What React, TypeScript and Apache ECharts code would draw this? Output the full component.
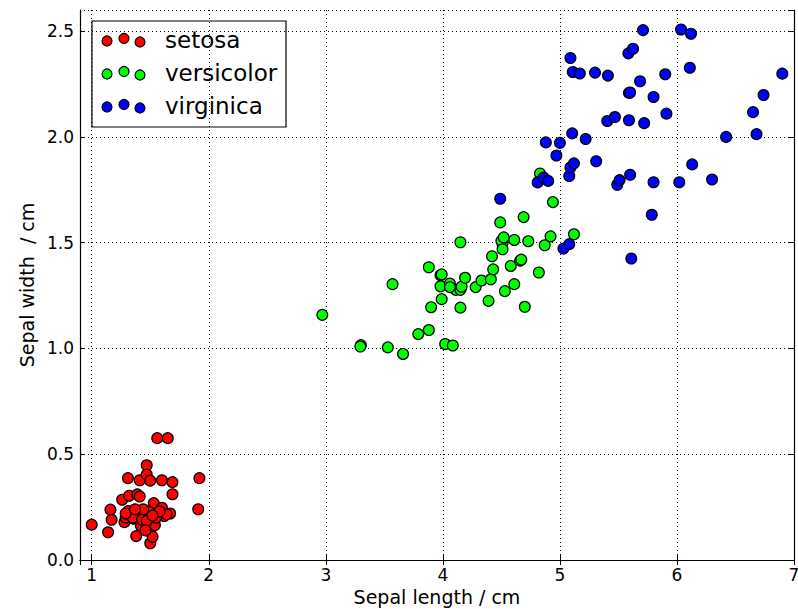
import React, { useEffect, useRef } from "react";
import * as echarts from "echarts";

const speciesNames = ["setosa", "versicolor", "virginica"];
const speciesColors = ["#ff0000", "#00ff00", "#0000ff"];
const xTickLabels = ["1", "2", "3", "4", "5", "6", "7"];
const yTickLabels = ["0.0", "0.5", "1.0", "1.5", "2.0", "2.5"];

const setosa: number[][] = [
  [1.0, 0.167], [1.14, 0.131], [1.16, 0.238], [1.17, 0.19], [1.26, 0.285],
  [1.28, 0.179], [1.29, 0.201], [1.31, 0.387], [1.31, 0.231], [1.32, 0.304],
  [1.36, 0.195], [1.38, 0.113], [1.39, 0.31], [1.4, 0.219], [1.41, 0.3],
  [1.41, 0.377], [1.42, 0.162], [1.47, 0.448], [1.47, 0.404], [1.5, 0.375],
  [1.5, 0.22], [1.5, 0.135], [1.5, 0.079], [1.52, 0.11], [1.53, 0.269],
  [1.54, 0.165], [1.56, 0.576], [1.65, 0.576], [1.6, 0.377], [1.6, 0.247],
  [1.69, 0.368], [1.69, 0.311], [1.67, 0.22], [1.62, 0.208], [1.92, 0.387],
  [1.91, 0.24], [1.64, 0.216], [1.49, 0.228], [1.45, 0.21], [1.44, 0.24],
  [1.33, 0.21], [1.35, 0.2], [1.43, 0.19], [1.55, 0.2], [1.58, 0.23],
  [1.47, 0.185], [1.52, 0.21], [1.29, 0.22], [1.37, 0.24], [1.46, 0.14],
];

const versicolor: number[][] = [
  [2.97, 1.159], [3.3, 1.016], [3.295, 1.009], [3.53, 1.005], [3.66, 0.974],
  [3.57, 1.304], [3.79, 1.068], [3.88, 1.087], [3.88, 1.384], [3.9, 1.195],
  [3.98, 1.346], [3.98, 1.294], [3.99, 1.233], [4.02, 1.021], [4.085, 1.014],
  [4.06, 1.307], [4.11, 1.277], [4.15, 1.277], [4.16, 1.292], [4.15, 1.193],
  [4.19, 1.334], [4.15, 1.502], [4.28, 1.29], [4.33, 1.321], [4.39, 1.225],
  [4.41, 1.327], [4.43, 1.374], [4.42, 1.436], [4.49, 1.596], [4.51, 1.497],
  [4.5, 1.508], [4.52, 1.525], [4.51, 1.469], [4.53, 1.271], [4.58, 1.39],
  [4.61, 1.513], [4.61, 1.304], [4.66, 1.415], [4.69, 1.621], [4.7, 1.197],
  [4.73, 1.507], [4.82, 1.359], [4.87, 1.488], [4.92, 1.53], [4.94, 1.692],
  [5.12, 1.54], [4.83, 1.827], [4.67, 1.42], [3.99, 1.35], [4.06, 1.29],
];

const virginica: number[][] = [
  [4.49, 1.708], [5.03, 1.472], [5.08, 1.493], [4.81, 1.785], [4.86, 1.808],
  [4.9, 1.792], [5.08, 1.815], [5.09, 1.856], [5.12, 1.875], [5.785, 1.632],
  [5.61, 1.425], [5.49, 1.774], [5.51, 1.796], [5.8, 1.786], [6.02, 1.786],
  [6.3, 1.799], [5.09, 2.373], [5.11, 2.307], [5.17, 2.3], [5.3, 2.304],
  [5.41, 2.29], [5.585, 2.395], [5.625, 2.417], [5.59, 2.208], [5.405, 2.075],
  [5.47, 2.094], [5.59, 2.079], [5.105, 2.017], [5.22, 1.99], [4.88, 1.974],
  [5.0, 1.972], [4.97, 1.912], [5.31, 1.885], [5.6, 1.821], [5.71, 2.505],
  [6.035, 2.508], [6.12, 2.488], [5.9, 2.296], [6.11, 2.327], [6.9, 2.299],
  [5.685, 2.263], [5.8, 2.189], [6.74, 2.198], [6.65, 2.117], [5.91, 2.11],
  [5.72, 2.065], [6.42, 2.0], [6.68, 2.013], [6.13, 1.87], [5.6, 2.21],
];

const speciesData = [setosa, versicolor, virginica];

const FONT = "DejaVu Sans";

export default function App() {
  const ref = useRef<HTMLDivElement>(null);

  useEffect(() => {
    document.body.style.margin = "0";
    if (!ref.current) return;
    const chart = echarts.init(ref.current, null, { renderer: "svg" });

    const splitLine = {
      show: true,
      lineStyle: { color: "#000", width: 1, type: [1, 3] as any },
    };
    const axisLine = { show: true, lineStyle: { color: "#000", width: 1.2 } };
    const axisTick = { show: true, inside: true, length: 5, lineStyle: { color: "#000", width: 1 } };

    const legendRows = speciesNames.map((name, i) => {
      const rowY = 41 + i * 33;
      const offs = [0, -2.5, 1];
      const xs = [107, 124, 140];
      return {
        type: "group",
        children: [
          ...xs.map((x, k) => ({
            type: "circle",
            shape: { cx: x, cy: rowY + offs[k], r: 5 },
            style: { fill: speciesColors[i], stroke: "#000", lineWidth: 1.2 },
          })),
          {
            type: "text",
            x: 165,
            y: rowY - 1,
            style: {
              text: name,
              fill: "#000",
              font: `23px "${FONT}"`,
              textVerticalAlign: "middle",
              textAlign: "left",
            },
          },
        ],
      };
    });

    chart.setOption({
      animation: false,
      textStyle: { fontFamily: FONT },
      grid: { left: 80, right: 4, top: 10, bottom: 49, outerBoundsMode: "none", containLabel: false },
      xAxis: [
        {
          type: "value",
          min: 0.9,
          max: 7,
          splitNumber: 6,
          name: "Sepal length / cm",
          nameLocation: "middle",
          nameGap: 27,
          nameTextStyle: { fontSize: 19, color: "#000", fontFamily: FONT },
          axisLine,
          axisTick,
          splitLine,
          axisLabel: {
            color: "#000",
            fontSize: 17,
            fontFamily: FONT,
            margin: 6,
            showMinLabel: false,
            hideOverlap: false,
            formatter: (v: number) => {
              const idx = xTickLabels.indexOf(String(Math.round(v)));
              return Math.abs(v - Math.round(v)) < 1e-6 && idx >= 0 ? xTickLabels[idx] : "";
            },
          },
        },
        {
          type: "value",
          position: "top",
          min: 0.9,
          max: 7,
          splitNumber: 6,
          axisLine,
          axisTick,
          splitLine: { show: false },
          axisLabel: { show: false },
        },
      ],
      yAxis: [
        {
          type: "value",
          min: 0,
          max: 2.6,
          interval: 0.5,
          name: "Sepal width  / cm",
          nameLocation: "middle",
          nameGap: 43,
          nameTextStyle: { fontSize: 19, color: "#000", fontFamily: FONT },
          axisLine,
          axisTick,
          splitLine,
          axisLabel: {
            color: "#000",
            fontSize: 17,
            fontFamily: FONT,
            margin: 6,
            showMaxLabel: false,
            formatter: (v: number) => {
              const idx = Math.round(v / 0.5);
              return Math.abs(v - idx * 0.5) < 1e-6 && yTickLabels[idx] ? yTickLabels[idx] : "";
            },
          },
        },
        {
          type: "value",
          position: "right",
          min: 0,
          max: 2.6,
          interval: 0.5,
          axisLine,
          axisTick,
          splitLine: { show: false },
          axisLabel: { show: false },
        },
      ],
      series: speciesNames.map((name, i) => ({
        type: "scatter",
        name,
        xAxisIndex: 0,
        yAxisIndex: 0,
        data: speciesData[i],
        symbol: "circle",
        symbolSize: 10.8,
        itemStyle: { color: speciesColors[i], borderColor: "#000", borderWidth: 1.2, opacity: 1 },
        emphasis: { disabled: true },
      })),
      graphic: [
        {
          type: "group",
          children: [
            {
              type: "rect",
              shape: { x: 92, y: 21, width: 194, height: 106 },
              style: { fill: "#fff", stroke: "#000", lineWidth: 1.2 },
            },
            ...legendRows,
          ],
        },
      ],
    });

    return () => chart.dispose();
  }, []);

  return <div ref={ref} style={{ width: 798, height: 609 }} />;
}
